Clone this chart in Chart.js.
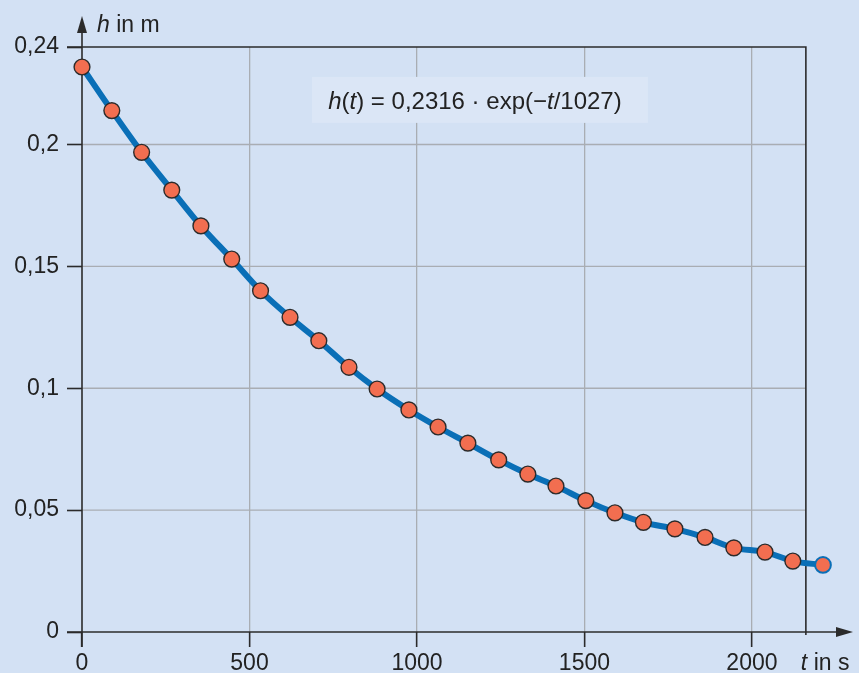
<!DOCTYPE html>
<html>
<head>
<meta charset="utf-8">
<script src="https://cdn.jsdelivr.net/npm/chart.js@4/dist/chart.umd.min.js"></script>
<style>
    html, body {
        margin: 0;
        padding: 0;
        background: #d3e1f4;
    }
    #wrap {
        width: 859px;
        height: 673px;
    }
</style>
</head>
<body>
<div id="wrap"><canvas id="mainChart" width="859" height="673"></canvas></div>
<script>
// measured points (t in s, h in m)
const timeValues = [0, 89, 178, 268, 355, 447, 533, 621, 707, 797, 881, 976, 1063,
    1152, 1244, 1331, 1415, 1504, 1591, 1676, 1770, 1860, 1946, 2039, 2122, 2212];
const heightValues = [0.2318, 0.2139, 0.1968, 0.1813, 0.1666, 0.1530, 0.1400, 0.1291,
    0.1195, 0.1086, 0.0997, 0.0911, 0.0841, 0.0775, 0.0706, 0.0648, 0.0599, 0.0539,
    0.0489, 0.0450, 0.0423, 0.0388, 0.0345, 0.0328, 0.0291, 0.0275];
const xTicks = [0, 500, 1000, 1500, 2000];
const yTicks = [0, 0.05, 0.1, 0.15, 0.2, 0.24];
const frameT = 2161;   // right frame line
const xMax = 2239;
const yMax = 0.24;
const xTitle = [['t', true], [' in s', false]];
const yTitle = [['h', true], [' in m', false]];
const formula = [['h', true], ['(', false], ['t', true], [') = 0,2316 \u00b7 exp(\u2212', false],
    ['t', true], ['/1027)', false]];
const formulaPos = {x: 1188, y: 0.2183};

const FONT = '"Liberation Sans", Arial, Helvetica, sans-serif';
const DARK = '#2b2b2b';
const GRID = '#a9adb3';

function drawMixed(ctx, parts, x, y, size) {
    ctx.textBaseline = 'alphabetic';
    ctx.textAlign = 'left';
    for (let [text, italic] of parts) {
        ctx.font = (italic ? 'italic ' : '') + size + 'px ' + FONT;
        ctx.fillText(text, x, y);
        x += ctx.measureText(text).width;
    }
    return x;
}

function mixedWidth(ctx, parts, size) {
    let w = 0;
    for (let [text, italic] of parts) {
        ctx.font = (italic ? 'italic ' : '') + size + 'px ' + FONT;
        w += ctx.measureText(text).width;
    }
    return w;
}

const decorations = {
    id: 'decorations',
    beforeDatasetsDraw(chart) {
        const ctx = chart.ctx;
        const xs = chart.scales.x;
        const ys = chart.scales.y;
        const x0 = xs.getPixelForValue(0);
        const y0 = ys.getPixelForValue(0);
        const xr = xs.getPixelForValue(frameT);
        const yt = ys.getPixelForValue(yMax);

        ctx.save();

        // horizontal grid lines, only inside the frame
        ctx.strokeStyle = GRID;
        ctx.lineWidth = 1.3;
        for (let v of yTicks) {
            if (v === 0 || v === yMax) continue;
            const y = ys.getPixelForValue(v);
            ctx.beginPath();
            ctx.moveTo(x0, y);
            ctx.lineTo(xr, y);
            ctx.stroke();
        }

        // formula box
        const bx = xs.getPixelForValue(formulaPos.x);
        const by = ys.getPixelForValue(formulaPos.y);
        ctx.fillStyle = '#dbe6f6';
        ctx.fillRect(bx - 168, by - 23, 336, 46);
        ctx.fillStyle = '#222';
        const fw = mixedWidth(ctx, formula, 24);
        drawMixed(ctx, formula, bx - fw / 2 - 5, by + 9, 24);

        ctx.strokeStyle = DARK;
        ctx.fillStyle = DARK;
        ctx.lineWidth = 1.6;

        // top and right frame
        ctx.beginPath();
        ctx.moveTo(x0 - 15, yt);
        ctx.lineTo(xr, yt);
        ctx.lineTo(xr, y0 + 3);
        ctx.stroke();

        // x axis with arrow
        ctx.beginPath();
        ctx.moveTo(x0 - 15, y0);
        ctx.lineTo(chart.width - 20, y0);
        ctx.stroke();
        const xt = chart.width - 6;
        ctx.beginPath();
        ctx.moveTo(xt, y0);
        ctx.lineTo(xt - 17, y0 - 5);
        ctx.lineTo(xt - 17, y0 + 5);
        ctx.closePath();
        ctx.fill();

        // y axis with arrow
        ctx.beginPath();
        ctx.moveTo(x0, y0 + 15);
        ctx.lineTo(x0, 30);
        ctx.stroke();
        ctx.beginPath();
        ctx.moveTo(x0, 16);
        ctx.lineTo(x0 - 5, 33);
        ctx.lineTo(x0 + 5, 33);
        ctx.closePath();
        ctx.fill();

        // axis titles
        ctx.fillStyle = '#222';
        drawMixed(ctx, yTitle, x0 + 15, 32, 23);
        drawMixed(ctx, xTitle, xr - 5, y0 + 38, 23);

        ctx.restore();
    }
};

function setTicks(values) {
    return function (scale) {
        scale.ticks = values.map((v) => ({value: v}));
    };
}

const points = timeValues.map((t, i) => ({x: t, y: heightValues[i]}));
const borderColors = points.map((p, i) => i === points.length - 1 ? '#0a6fb7' : DARK);
const borderWidths = points.map((p, i) => i === points.length - 1 ? 2 : 1.4);

new Chart(document.getElementById('mainChart').getContext('2d'), {
    type: 'scatter',
    data: {
        datasets: [{
            data: points,
            showLine: true,
            clip: false,
            borderColor: '#0a6fb7',
            borderWidth: 6,
            cubicInterpolationMode: 'monotone',
            pointRadius: 7.9,
            pointHoverRadius: 7.9,
            pointBackgroundColor: '#f26e50',
            pointBorderColor: borderColors,
            pointBorderWidth: borderWidths
        }]
    },
    options: {
        responsive: false,
        animation: false,
        events: [],
        layout: {
            padding: {top: 47, right: 27, bottom: 0, left: 0}
        },
        plugins: {
            legend: {display: false},
            tooltip: {enabled: false}
        },
        scales: {
            x: {
                type: 'linear',
                min: 0,
                max: xMax,
                afterBuildTicks: setTicks(xTicks),
                afterFit: (scale) => { scale.height = 41; },
                border: {display: false},
                grid: {
                    color: (c) => c.tick.value === 0 ? 'rgba(0,0,0,0)' : GRID,
                    lineWidth: 1.3,
                    tickLength: 15,
                    tickColor: DARK,
                    tickWidth: 1.6
                },
                ticks: {
                    padding: 3,
                    color: '#222',
                    font: {family: FONT, size: 23},
                    maxRotation: 0,
                    callback: (v) => String(v)
                }
            },
            y: {
                type: 'linear',
                min: 0,
                max: yMax,
                afterBuildTicks: setTicks(yTicks),
                afterFit: (scale) => { scale.width = 82; },
                border: {display: false},
                grid: {
                    drawOnChartArea: false,
                    tickLength: 15,
                    tickColor: DARK,
                    tickWidth: 1.6
                },
                ticks: {
                    padding: 8,
                    color: '#222',
                    font: {family: FONT, size: 23},
                    callback: (v) => String(v).replace('.', ',')
                }
            }
        }
    },
    plugins: [decorations]
});
</script>
</body>
</html>
